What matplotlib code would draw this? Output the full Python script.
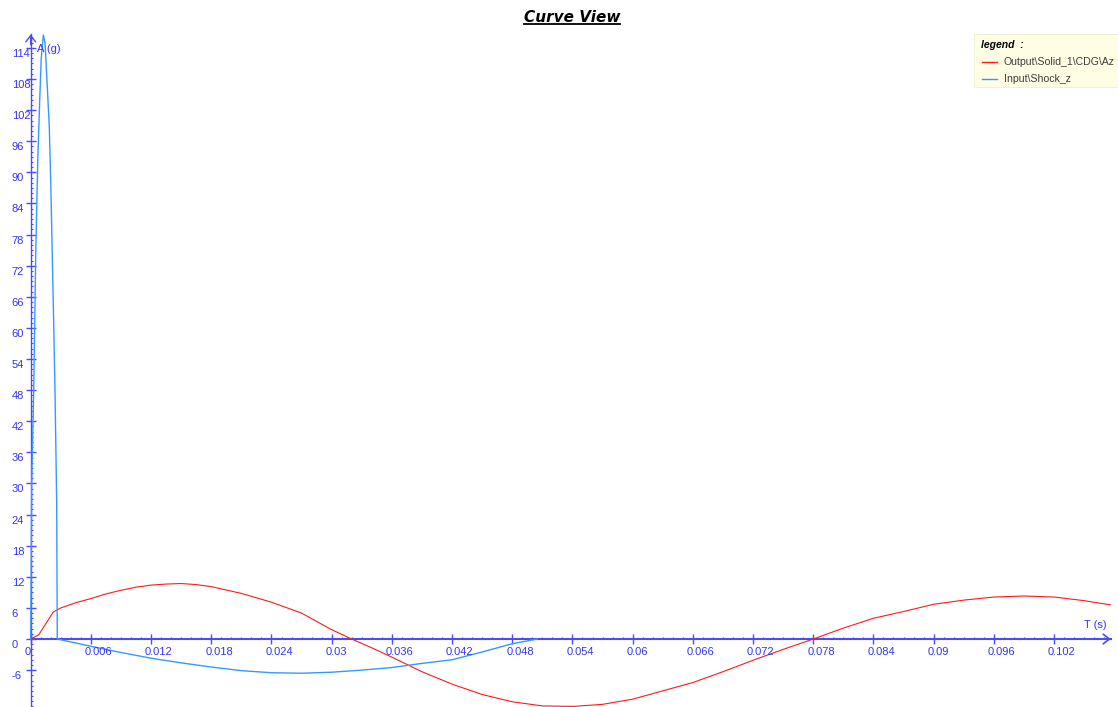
import numpy as np
import matplotlib
matplotlib.use("Agg")
import matplotlib.pyplot as plt
from matplotlib.lines import Line2D
from matplotlib.patches import Rectangle
from matplotlib.transforms import IdentityTransform

# response at the centre of gravity (g)
t_out = [0, 0.0008, 0.00225, 0.003, 0.0045, 0.006, 0.0075, 0.009, 0.0105, 0.012,
         0.0135, 0.015, 0.0165, 0.018, 0.021, 0.024, 0.027, 0.030, 0.032, 0.034,
         0.036, 0.039, 0.042, 0.045, 0.048, 0.051, 0.054, 0.057, 0.060, 0.063,
         0.066, 0.069, 0.072, 0.075, 0.078, 0.081, 0.084, 0.087, 0.090, 0.093,
         0.096, 0.099, 0.102, 0.105, 0.1076]
a_out = [0, 0.8, 5.2, 6.0, 7.0, 7.8, 8.7, 9.4, 10.0, 10.4,
         10.6, 10.7, 10.5, 10.1, 8.8, 7.1, 5.0, 1.8, 0, -1.7,
         -3.5, -6.3, -8.7, -10.7, -12.1, -12.9, -13.0, -12.6, -11.6, -10.0,
         -8.4, -6.3, -4.1, -2.0, 0, 2.1, 4.0, 5.3, 6.7, 7.5,
         8.1, 8.3, 8.1, 7.4, 6.6]

# input shock pulse (g)
t_in = [0, 0.0001, 0.0003, 0.0005, 0.0007, 0.0009, 0.00105, 0.00126, 0.00143,
        0.0016, 0.00185, 0.002, 0.00215, 0.00228, 0.00242, 0.00259, 0.00265,
        0.006, 0.009, 0.012, 0.015, 0.018, 0.021, 0.024, 0.027, 0.030, 0.033,
        0.036, 0.039, 0.042, 0.045, 0.048, 0.0505]
a_in = [0, 30, 48, 74, 92, 104, 112, 116.5, 115,
        108.5, 99, 88, 74, 62, 48, 26.5, 0,
        -1.4, -2.6, -3.7, -4.6, -5.4, -6.1, -6.5, -6.6, -6.4, -6.0,
        -5.5, -4.7, -4.0, -2.5, -0.9, 0]

x_ticks = [0, 0.006, 0.012, 0.018, 0.024, 0.03, 0.036, 0.042, 0.048, 0.054,
           0.06, 0.066, 0.072, 0.078, 0.084, 0.09, 0.096, 0.102]
x_labels = ["0", "0.006", "0.012", "0.018", "0.024", "0.03", "0.036", "0.042",
            "0.048", "0.054", "0.06", "0.066", "0.072", "0.078", "0.084", "0.09",
            "0.096", "0.102"]
y_ticks = [-6, 0, 6, 12, 18, 24, 30, 36, 42, 48, 54, 60, 66, 72, 78, 84, 90,
           96, 102, 108, 114]
y_labels = [str(v) for v in y_ticks]

legend_names = ["Output\\Solid_1\\CDG\\Az", "Input\\Shock_z"]

W, H = 1118, 707
axis_blue = "#4a4aff"
label_blue = "#3434f2"
font = "Liberation Sans"

x_end, y_top = 0.10766, 116.6
x_lo, x_hi = -0.00306, 0.10838
y_lo, y_hi = -13.11, 123.24

fig = plt.figure(figsize=(W / 100, H / 100), dpi=100)
fig.patch.set_facecolor("white")
ax = fig.add_axes([0, 0, 1, 1])
ax.set_xlim(x_lo, x_hi)
ax.set_ylim(y_lo, y_hi)

red_line, = ax.plot(t_out, a_out, color="#ff1a1a", lw=0.8, zorder=3)
blue_line, = ax.plot(t_in, a_in, color="#3399ff", lw=1.0, zorder=3)

# axes crossing at the origin
for side in ("top", "right"):
    ax.spines[side].set_visible(False)
ax.spines["left"].set_position(("data", 0))
ax.spines["bottom"].set_position(("data", 0))
ax.spines["left"].set_bounds(y_lo, y_top)
ax.spines["bottom"].set_bounds(0, x_end)
ax.spines["left"].set_color(axis_blue)
ax.spines["bottom"].set_color(axis_blue)
ax.spines["left"].set_linewidth(1.0)
ax.spines["bottom"].set_linewidth(1.5)

ax.set_xticks(x_ticks)
ax.set_xticklabels([])
ax.set_xticks(np.arange(0, x_end, 0.001), minor=True)
ax.set_yticks(y_ticks)
ax.set_yticklabels([])
ax.set_yticks(np.arange(-13, y_top, 1.0), minor=True)
ax.tick_params(which="major", direction="inout", length=6.5, width=1.0, color=axis_blue)
ax.tick_params(which="minor", direction="in", length=1.6, width=0.8, color=axis_blue)

for v, s in zip(x_ticks, x_labels):
    ax.annotate(s, (v, 0), xytext=(-6, -13), textcoords="offset pixels",
                ha="left", va="center", fontsize=8, family=font, color=label_blue)
for v, s in zip(y_ticks, y_labels):
    ax.annotate(s, (0, v), xytext=(-19, -6), textcoords="offset pixels",
                ha="left", va="center", fontsize=8, family=font, color=label_blue)

# arrow heads at the ends of both axes
head = "->,head_length=0.45,head_width=0.35"
ax.annotate("", xy=(x_end, 0), xytext=(x_end - 0.001, 0),
            arrowprops=dict(arrowstyle=head, color=axis_blue, lw=1.2,
                            mutation_scale=10, shrinkA=0, shrinkB=0))
ax.annotate("", xy=(0, y_top), xytext=(0, y_top - 2),
            arrowprops=dict(arrowstyle=head, color=axis_blue, lw=1.0,
                            mutation_scale=10, shrinkA=0, shrinkB=0))

ax.annotate("A (g)", (0, y_top), xytext=(6, -15), textcoords="offset pixels",
            ha="left", va="center", fontsize=8, family=font, color=label_blue)
ax.annotate("T (s)", (x_end, 0), xytext=(-4, 14), textcoords="offset pixels",
            ha="right", va="center", fontsize=8, family=font, color=label_blue)


def px(x, y):
    return x / W, 1 - y / H


def underline(txt, gap=2.0, lw=1.2):
    fig.canvas.draw()
    bb = txt.get_window_extent()
    yy = bb.y0 + gap
    fig.add_artist(Line2D([bb.x0, bb.x1], [yy, yy], transform=IdentityTransform(),
                          color=txt.get_color(), lw=lw))


title = fig.text(*px(572, 17), "Curve View", ha="center", va="center",
                 fontsize=11, fontweight="bold", fontstyle="italic",
                 family="DejaVu Sans", color="black")
underline(title, gap=1.0, lw=1.3)

# legend box
lx, ly = px(974, 87)
fig.add_artist(Rectangle((lx, ly), 1 - lx, (87 - 34) / H, transform=fig.transFigure,
                         facecolor="#fffde3", edgecolor="#f0eed0", lw=0.6, zorder=4))
leg_title = fig.text(*px(981, 45), "legend  :", ha="left", va="center", fontsize=7.5,
                     fontweight="bold", fontstyle="italic", family=font,
                     color="black", zorder=5)
underline(leg_title, gap=1.0, lw=0.9)
for yy, line, name in zip([62, 79], [red_line, blue_line], legend_names):
    x0, y0 = px(982, yy)
    x1, _ = px(997, yy)
    fig.add_artist(Line2D([x0, x1], [y0, y0], transform=fig.transFigure,
                          color=line.get_color(), lw=1.0, zorder=5))
    fig.text(*px(1004, yy), name, ha="left", va="center", fontsize=7.6,
             family=font, color="#3c3c3c", zorder=5)

fig.savefig("out.png", dpi=100)
